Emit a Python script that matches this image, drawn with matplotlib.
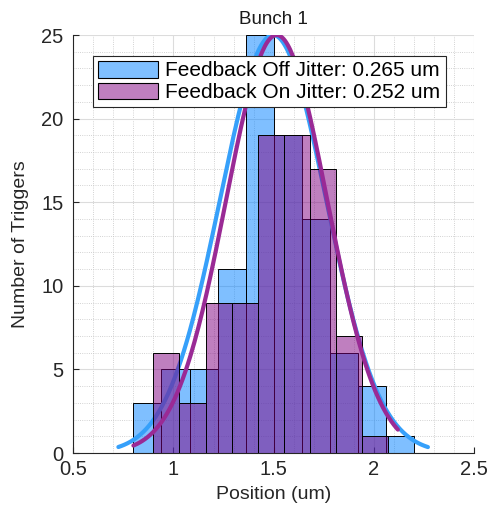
import numpy as np
import matplotlib
matplotlib.use('Agg')
from matplotlib import pyplot as plt
from matplotlib.ticker import MultipleLocator
from matplotlib.patches import Patch

# feedback off histogram (bin edges + counts)
off_edges = [0.80, 0.94, 1.08, 1.22, 1.36, 1.50, 1.64, 1.78, 1.92, 2.06, 2.20]
off_counts = [3, 5, 5, 11, 25, 19, 14, 6, 4, 1]
# feedback on histogram
on_edges = [0.90, 1.03, 1.16, 1.29, 1.42, 1.55, 1.68, 1.81, 1.94, 2.07]
on_counts = [6, 3, 9, 9, 19, 19, 17, 7, 1]

# normal fits (mean, sigma, peak height, plotted range)
off_mu, off_sigma, off_peak, off_range = 1.497, 0.265, 25.0, (0.725, 2.27)
on_mu, on_sigma, on_peak, on_range = 1.515, 0.252, 25.0, (0.80, 2.12)

off_label = 'Feedback Off Jitter: 0.265 um'
on_label = 'Feedback On Jitter: 0.252 um'

off_face = (0, 0.5, 1, 0.5)
on_face = (0.5, 0, 0.5, 0.5)

plt.rcParams['font.family'] = ['Liberation Sans', 'DejaVu Sans']

fig = plt.figure(figsize=(4.98, 5.12), dpi=100)
ax = fig.add_axes([0.1472, 0.1152, 0.8046, 0.8164])

def fit_curve(mu, sigma, peak, rng):
	x = np.linspace(rng[0], rng[1], 200)
	return x, peak * np.exp(-(x - mu) ** 2 / (2 * sigma ** 2))

ax.bar(off_edges[:-1], off_counts, width=np.diff(off_edges), align='edge',
	facecolor=off_face, edgecolor='black', linewidth=0.7, zorder=2)
x, y = fit_curve(off_mu, off_sigma, off_peak, off_range)
ax.plot(x, y, color='#36a0fa', linewidth=3, solid_capstyle='round', zorder=3)

ax.bar(on_edges[:-1], on_counts, width=np.diff(on_edges), align='edge',
	facecolor=on_face, edgecolor='black', linewidth=0.7, zorder=4)
x, y = fit_curve(on_mu, on_sigma, on_peak, on_range)
ax.plot(x, y, color='#9a2a95', linewidth=3, solid_capstyle='round', zorder=5)

h1 = Patch(facecolor=off_face, edgecolor='black', linewidth=0.8)
h2 = Patch(facecolor=on_face, edgecolor='black', linewidth=0.8)

ax.set_xlim(0.5, 2.5)
ax.set_ylim(0, 25)
ax.set_xticks([0.5, 1, 1.5, 2, 2.5])
ax.set_xticklabels(['0.5', '1', '1.5', '2', '2.5'])
ax.set_yticks([0, 5, 10, 15, 20, 25])
ax.xaxis.set_minor_locator(MultipleLocator(0.1))
ax.yaxis.set_minor_locator(MultipleLocator(1))
ax.tick_params(which='both', direction='in', labelsize=14.5, colors='#262626', length=4)
ax.tick_params(axis='x', pad=5)
ax.tick_params(axis='y', pad=7)
ax.tick_params(which='minor', length=0)
ax.grid(True, which='major', color='#dcdcdc', linewidth=0.8, zorder=0)
ax.grid(True, which='minor', color='#c4c4c4', linestyle=':', linewidth=0.6, zorder=0)
ax.set_axisbelow(True)
for s in ['top', 'right']:
	ax.spines[s].set_visible(False)
for s in ['left', 'bottom']:
	ax.spines[s].set_color('#262626')
	ax.spines[s].set_linewidth(0.8)

ax.set_title('Bunch 1', fontsize=13.5, color='#1a1a1a', pad=8)
ax.set_xlabel('Position (um)', fontsize=14, color='#262626', labelpad=5)
ax.set_ylabel('Number of Triggers', fontsize=14, color='#262626', labelpad=9)

leg = ax.legend([h1, h2], [off_label, on_label], loc='upper left',
	bbox_to_anchor=(0.048, 0.9505), borderaxespad=0, fontsize=15,
	handlelength=2.9, handleheight=0.85, handletextpad=0.35, labelspacing=0.1,
	borderpad=0.25, fancybox=False, framealpha=1, edgecolor='#262626')
leg.get_frame().set_linewidth(0.8)
leg.set_zorder(10)

fig.savefig('out.png', dpi=100)
